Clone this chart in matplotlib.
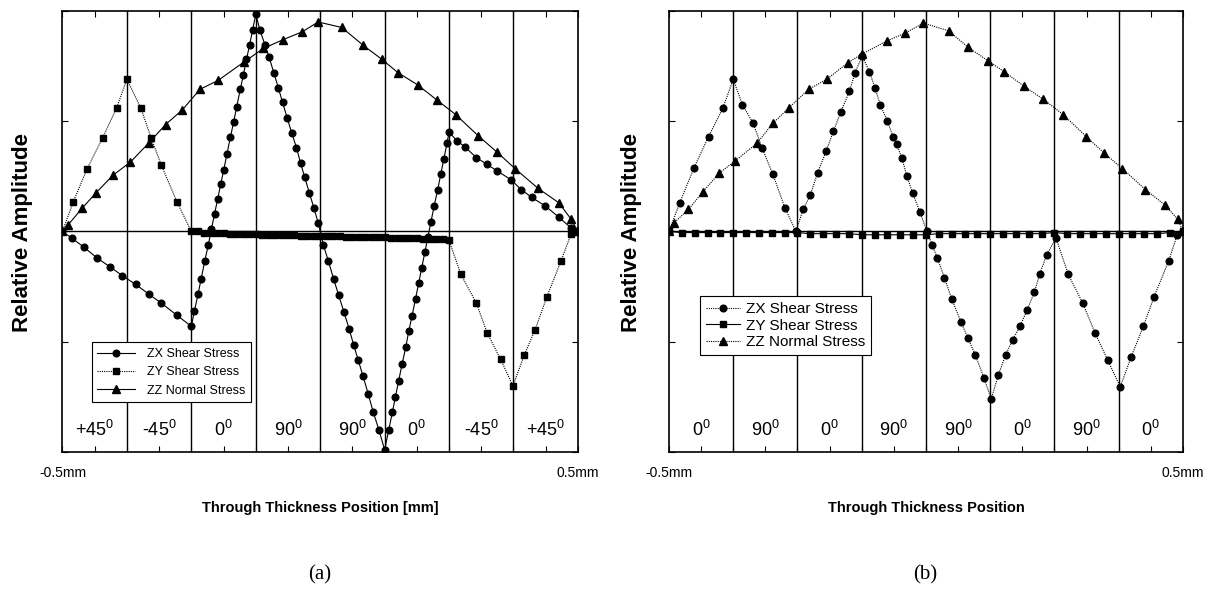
import numpy as np
import matplotlib.pyplot as plt

plt.rcParams['font.family'] = ['Liberation Sans', 'DejaVu Sans']
plt.rcParams['mathtext.default'] = 'regular'

# ---------------- panel (a): [+45/-45/0/90]s ----------------
plies_a = ['+45', '-45', '0', '90', '90', '0', '-45', '+45']

zx_a_pos = [-0.500, -0.482, -0.459, -0.433, -0.408, -0.384, -0.358, -0.332, -0.308, -0.278, -0.250,
            -0.244, -0.237, -0.231, -0.224, -0.217, -0.211, -0.205, -0.199, -0.193, -0.187,
            -0.181, -0.174, -0.168, -0.162, -0.155, -0.149, -0.143, -0.137, -0.131, -0.125,
            -0.117, -0.107, -0.099, -0.090, -0.081, -0.073, -0.064, -0.055, -0.046, -0.038,
            -0.030, -0.021, -0.012, -0.004,
            0.006, 0.016, 0.026, 0.036, 0.046, 0.056, 0.065, 0.074, 0.083, 0.093, 0.103, 0.114, 0.125,
            0.133, 0.140, 0.146, 0.152, 0.159, 0.166, 0.172, 0.178, 0.185, 0.191, 0.197, 0.203,
            0.209, 0.215, 0.221, 0.228, 0.234, 0.240, 0.246,
            0.250, 0.266, 0.280, 0.303, 0.323, 0.343, 0.370, 0.390, 0.410, 0.437, 0.463, 0.487, 0.500]
zx_a_val = [0.00, -0.06, -0.14, -0.24, -0.32, -0.40, -0.48, -0.57, -0.65, -0.76, -0.86,
            -0.72, -0.57, -0.43, -0.27, -0.12, 0.02, 0.16, 0.29, 0.43, 0.56,
            0.70, 0.86, 0.99, 1.13, 1.29, 1.42, 1.56, 1.69, 1.83, 1.97,
            1.83, 1.69, 1.58, 1.44, 1.30, 1.17, 1.03, 0.89, 0.76, 0.62,
            0.49, 0.35, 0.21, 0.08,
            -0.12, -0.27, -0.43, -0.58, -0.73, -0.88, -1.03, -1.17, -1.31, -1.47, -1.64, -1.80, -1.98,
            -1.80, -1.64, -1.50, -1.36, -1.20, -1.05, -0.90, -0.77, -0.61, -0.47, -0.33, -0.19,
            -0.05, 0.09, 0.23, 0.38, 0.52, 0.66, 0.80,
            0.90, 0.82, 0.77, 0.67, 0.61, 0.55, 0.47, 0.38, 0.31, 0.23, 0.13, 0.03, 0.00]

zy_a_pos = [-0.500, -0.479, -0.452, -0.422, -0.395, -0.375, -0.348, -0.328, -0.308, -0.278, -0.250,
            -0.2375, -0.225, -0.2125, -0.200, -0.1875, -0.175, -0.1625, -0.150, -0.1375, -0.125,
            -0.1125, -0.100, -0.0875, -0.075, -0.0625, -0.050, -0.0375, -0.025, -0.0125, 0.000,
            0.0125, 0.025, 0.0375, 0.050, 0.0625, 0.075, 0.0875, 0.100, 0.1125, 0.125,
            0.1375, 0.150, 0.1625, 0.175, 0.1875, 0.200, 0.2125, 0.225, 0.2375,
            0.250, 0.273, 0.303, 0.324, 0.350, 0.374, 0.396, 0.417, 0.440, 0.467, 0.487, 0.500]
zy_a_val = [0.00, 0.27, 0.57, 0.85, 1.12, 1.38, 1.12, 0.85, 0.60, 0.27, 0.00,
            0.00, -0.01, -0.01, -0.01, -0.01, -0.02, -0.02, -0.02, -0.02, -0.02,
            -0.03, -0.03, -0.03, -0.03, -0.03, -0.03, -0.04, -0.04, -0.04, -0.04,
            -0.04, -0.04, -0.04, -0.05, -0.05, -0.05, -0.05, -0.05, -0.05, -0.05,
            -0.06, -0.06, -0.06, -0.06, -0.06, -0.07, -0.07, -0.07, -0.07,
            -0.08, -0.39, -0.65, -0.92, -1.16, -1.40, -1.12, -0.89, -0.59, -0.27, -0.02, 0.00]

zz_a_pos = [-0.500, -0.489, -0.462, -0.435, -0.402, -0.368, -0.333, -0.300, -0.268, -0.233,
            -0.198, -0.147, -0.110, -0.072, -0.035, -0.004, 0.042, 0.083, 0.120, 0.151,
            0.189, 0.227, 0.263, 0.306, 0.343, 0.378, 0.423, 0.463, 0.487, 0.500]
zz_a_val = [0.00, 0.06, 0.21, 0.35, 0.51, 0.63, 0.80, 0.97, 1.10, 1.29,
            1.37, 1.54, 1.66, 1.74, 1.81, 1.90, 1.85, 1.69, 1.56, 1.44,
            1.33, 1.19, 1.06, 0.87, 0.72, 0.57, 0.39, 0.26, 0.11, 0.00]

# ---------------- panel (b): [0/90/0/90]s ----------------
plies_b = ['0', '90', '0', '90', '90', '0', '90', '0']

zx_b_pos = [-0.500, -0.479, -0.451, -0.423, -0.395, -0.375, -0.357, -0.336, -0.319, -0.298, -0.274,
            -0.253, -0.239, -0.225, -0.211, -0.194, -0.180, -0.166, -0.149, -0.138, -0.124,
            -0.110, -0.099, -0.089, -0.075, -0.064, -0.057, -0.047, -0.037, -0.026, -0.012, 0.002,
            0.012, 0.022, 0.036, 0.050, 0.068, 0.082, 0.096, 0.113, 0.127,
            0.141, 0.155, 0.169, 0.183, 0.197, 0.211, 0.221, 0.235, 0.253,
            0.277, 0.305, 0.329, 0.354, 0.378, 0.399, 0.423, 0.444, 0.472, 0.489, 0.500]
zx_b_val = [0.00, 0.26, 0.58, 0.86, 1.12, 1.38, 1.15, 0.98, 0.76, 0.52, 0.21,
            0.00, 0.20, 0.33, 0.53, 0.73, 0.91, 1.08, 1.27, 1.44, 1.59,
            1.45, 1.30, 1.15, 1.00, 0.86, 0.79, 0.67, 0.50, 0.35, 0.18, 0.00,
            -0.12, -0.24, -0.42, -0.61, -0.82, -0.97, -1.12, -1.33, -1.52,
            -1.30, -1.12, -0.98, -0.86, -0.71, -0.55, -0.39, -0.21, -0.06,
            -0.39, -0.65, -0.92, -1.17, -1.41, -1.14, -0.86, -0.59, -0.27, -0.03, 0.00]

zy_b_pos = [-0.500, -0.475, -0.450, -0.425, -0.400, -0.375, -0.350, -0.325, -0.300, -0.275,
            -0.250, -0.225, -0.200, -0.175, -0.150, -0.125, -0.100, -0.075, -0.050, -0.025,
            0.000, 0.025, 0.050, 0.075, 0.100, 0.125, 0.150, 0.175, 0.200, 0.225,
            0.250, 0.275, 0.300, 0.325, 0.350, 0.375, 0.400, 0.425, 0.450, 0.475, 0.500]
zy_b_val = [0.00, -0.01, -0.01, -0.01, -0.01, -0.01, -0.01, -0.01, -0.01, -0.01,
            -0.01, -0.02, -0.02, -0.02, -0.02, -0.03, -0.03, -0.03, -0.03, -0.03,
            -0.03, -0.02, -0.02, -0.02, -0.02, -0.02, -0.02, -0.02, -0.02, -0.02,
            -0.01, -0.02, -0.02, -0.02, -0.02, -0.02, -0.02, -0.02, -0.02, -0.01, 0.00]

zz_b_pos = [-0.500, -0.490, -0.462, -0.434, -0.402, -0.371, -0.329, -0.298, -0.267, -0.228,
            -0.193, -0.152, -0.124, -0.075, -0.040, -0.005, 0.044, 0.082, 0.120, 0.152,
            0.190, 0.228, 0.267, 0.312, 0.347, 0.382, 0.427, 0.465, 0.490, 0.500]
zz_b_val = [0.00, 0.08, 0.20, 0.36, 0.53, 0.64, 0.80, 0.98, 1.12, 1.29,
            1.38, 1.53, 1.61, 1.73, 1.80, 1.89, 1.82, 1.67, 1.55, 1.45,
            1.32, 1.20, 1.06, 0.86, 0.71, 0.57, 0.38, 0.24, 0.11, 0.00]

ply_edges = [-0.375, -0.25, -0.125, 0.0, 0.125, 0.25, 0.375]
ply_mid = [-0.4375, -0.3125, -0.1875, -0.0625, 0.0625, 0.1875, 0.3125, 0.4375]
xticks = [-0.5, -0.4375, -0.375, -0.3125, -0.25, -0.1875, -0.125, -0.0625, 0.0,
          0.0625, 0.125, 0.1875, 0.25, 0.3125, 0.375, 0.4375, 0.5]

solid = '-'
dotted = (0, (1, 1))


def draw_panel(ax, series, plies, leg_anchor, leg_opts):
	for (pos, val, mk, ms, ls, lab) in series:
		ax.plot(pos, val, linestyle=ls, color='black', lw=0.8, marker=mk, ms=ms,
			mfc='black', mec='black', label=lab)

	#ply boundaries and the zero line
	for e in ply_edges:
		ax.axvline(e, color='black', lw=1.0, zorder=0)
	ax.axhline(0, color='black', lw=1.0, zorder=0)

	for (xm, p) in zip(ply_mid, plies):
		ax.text(xm, -1.80, p + '$^{0}$', ha='center', va='center', fontsize=13)

	ax.set_xlim(-0.5, 0.5)
	ax.set_ylim(-2, 2)
	ax.set_xticks(xticks)
	ax.set_xticklabels(['-0.5mm'] + [''] * 15 + ['0.5mm'], fontsize=10)
	ax.set_yticks([-2, -1, 0, 1, 2])
	ax.set_yticklabels([])
	ax.tick_params(direction='in', length=4, width=0.8, top=True, right=True, pad=10)
	for s in ax.spines.values():
		s.set_linewidth(1.2)

	leg = ax.legend(loc='lower left', bbox_to_anchor=leg_anchor, borderaxespad=0,
		fancybox=False, framealpha=1, edgecolor='black', **leg_opts)
	leg.get_frame().set_linewidth(0.8)


fig = plt.figure(figsize=(12.27, 5.92), dpi=100)
ax_a = fig.add_axes([0.0509, 0.2365, 0.4201, 0.745])
ax_b = fig.add_axes([0.5452, 0.2365, 0.4189, 0.745])

draw_panel(ax_a, [
	(zx_a_pos, zx_a_val, 'o', 4.8, solid, 'ZX Shear Stress'),
	(zy_a_pos, zy_a_val, 's', 4.0, dotted, 'ZY Shear Stress'),
	(zz_a_pos, zz_a_val, '^', 5.5, solid, 'ZZ Normal Stress'),
], plies_a, (0.057, 0.113),
	dict(fontsize=9, handlelength=3.0, handletextpad=1.0, labelspacing=0.5, borderpad=0.45))

draw_panel(ax_b, [
	(zx_b_pos, zx_b_val, 'o', 4.8, dotted, 'ZX Shear Stress'),
	(zy_b_pos, zy_b_val, 's', 4.0, solid, 'ZY Shear Stress'),
	(zz_b_pos, zz_b_val, '^', 5.5, dotted, 'ZZ Normal Stress'),
], plies_b, (0.060, 0.22),
	dict(fontsize=11, handlelength=2.2, handletextpad=0.4, labelspacing=0.15, borderpad=0.4))

# axis titles and sub-figure captions
fig.text(23 / 1227, 1 - 232 / 592, 'Relative Amplitude', rotation=90, ha='center', va='center',
	fontsize=16, fontweight='bold')
fig.text(632 / 1227, 1 - 232 / 592, 'Relative Amplitude', rotation=90, ha='center', va='center',
	fontsize=16, fontweight='bold')
fig.text(320 / 1227, 1 - 508 / 592, 'Through Thickness Position [mm]', ha='center', va='center',
	fontsize=10.5, fontweight='bold')
fig.text(926 / 1227, 1 - 508 / 592, 'Through Thickness Position', ha='center', va='center',
	fontsize=10.5, fontweight='bold')
fig.text(320 / 1227, 1 - 575 / 592, '(a)', ha='center', va='center', fontsize=15,
	family='Liberation Serif')
fig.text(925 / 1227, 1 - 575 / 592, '(b)', ha='center', va='center', fontsize=15,
	family='Liberation Serif')

fig.savefig('out.png', dpi=100)
